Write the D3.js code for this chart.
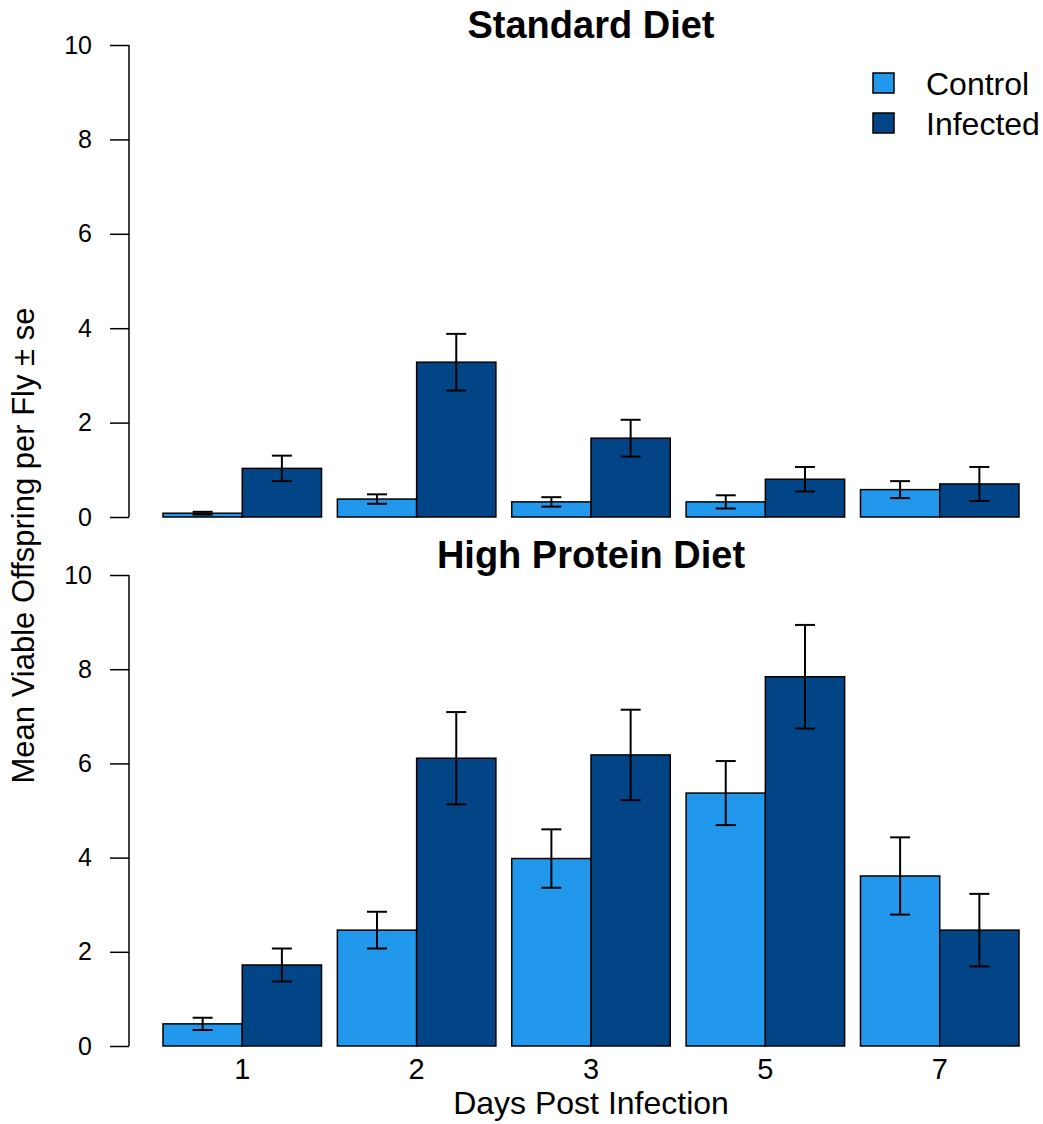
<!DOCTYPE html>
<html>
<head>
<meta charset="utf-8">
<script src="https://cdn.jsdelivr.net/npm/d3@7"></script>
<style>
  html, body { margin: 0; padding: 0; background: #fff; }
  svg { display: block; font-family: "Liberation Sans", Arial, sans-serif; }
</style>
</head>
<body>
<svg id="chart" width="1043" height="1124"></svg>
<script>
// ---- data ----
const days = ["1", "2", "3", "5", "7"];
const series = ["Control", "Infected"];
const panelTitles = ["Standard Diet", "High Protein Diet"];
const standardControl = [0.08, 0.38, 0.32, 0.32, 0.58];
const standardControlSE = [0.03, 0.10, 0.10, 0.14, 0.18];
const standardInfected = [1.03, 3.28, 1.67, 0.80, 0.70];
const standardInfectedSE = [0.27, 0.60, 0.39, 0.26, 0.36];
const proteinControl = [0.47, 2.46, 3.98, 5.37, 3.61];
const proteinControlSE = [0.13, 0.39, 0.62, 0.68, 0.82];
const proteinInfected = [1.72, 6.11, 6.18, 7.84, 2.46];
const proteinInfectedSE = [0.35, 0.98, 0.96, 1.10, 0.77];
const yTicks = [0, 2, 4, 6, 8, 10];
const yLabel = "Mean Viable Offspring per Fly \u00b1 se";
const xLabel = "Days Post Infection";

const colors = { Control: "#2298EC", Infected: "#014587" };

const panels = [
  { title: panelTitles[0], values: [standardControl, standardInfected], se: [standardControlSE, standardInfectedSE], top: 45, bottom: 517, xLabels: false },
  { title: panelTitles[1], values: [proteinControl, proteinInfected], se: [proteinControlSE, proteinInfectedSE], top: 575, bottom: 1046, xLabels: true }
];

const svg = d3.select("#chart");
const axisX = 129;
const plotRight = 1053;

const x0 = d3.scaleBand().domain(days).range([163, 1019]).paddingInner(0.2 / 2.2).paddingOuter(0);
const x1 = d3.scaleBand().domain(series).range([0, x0.bandwidth()]).padding(0);

panels.forEach(p => {
  const y = d3.scaleLinear().domain([0, 10]).range([p.bottom, p.top]);
  const g = svg.append("g");

  // title
  g.append("text")
    .attr("x", (axisX + plotRight) / 2)
    .attr("y", p.top - 7)
    .attr("text-anchor", "middle")
    .attr("font-weight", "bold")
    .attr("font-size", 38)
    .text(p.title);

  // y axis
  const yAxis = d3.axisLeft(y).tickValues(yTicks).tickSize(19).tickPadding(18).tickSizeOuter(0);
  const ag = g.append("g").attr("transform", `translate(${axisX},0)`).call(yAxis);
  ag.select(".domain").attr("stroke", "#000").attr("stroke-width", 1.5).attr("d", `M0,${p.top}V${p.bottom}`);
  ag.selectAll(".tick line").attr("stroke", "#000").attr("stroke-width", 1.5);
  ag.selectAll(".tick text").attr("font-size", 25).attr("fill", "#000")
    .attr("font-family", '"Liberation Sans", Arial, sans-serif');

  // bars
  const rows = [];
  days.forEach((d, i) => {
    series.forEach((s, j) => {
      rows.push({ day: d, s, v: p.values[j][i], e: p.se[j][i] });
    });
  });

  g.selectAll("rect.bar").data(rows).join("rect")
    .attr("class", "bar")
    .attr("x", d => x0(d.day) + x1(d.s))
    .attr("y", d => y(d.v))
    .attr("width", x1.bandwidth())
    .attr("height", d => y(0) - y(d.v))
    .attr("fill", d => colors[d.s])
    .attr("stroke", "#000")
    .attr("stroke-width", 1.5);

  // error bars
  const eg = g.selectAll("g.err").data(rows).join("g").attr("class", "err")
    .attr("transform", d => `translate(${x0(d.day) + x1(d.s) + x1.bandwidth() / 2},0)`);
  eg.append("line").attr("x1", 0).attr("x2", 0)
    .attr("y1", d => y(d.v + d.e)).attr("y2", d => y(d.v - d.e))
    .attr("stroke", "#000").attr("stroke-width", 2);
  eg.append("line").attr("x1", -10).attr("x2", 10)
    .attr("y1", d => y(d.v + d.e)).attr("y2", d => y(d.v + d.e))
    .attr("stroke", "#000").attr("stroke-width", 2);
  eg.append("line").attr("x1", -10).attr("x2", 10)
    .attr("y1", d => y(d.v - d.e)).attr("y2", d => y(d.v - d.e))
    .attr("stroke", "#000").attr("stroke-width", 2);

  if (p.xLabels) {
    g.selectAll("text.xlab").data(days).join("text")
      .attr("class", "xlab")
      .attr("x", d => x0(d) + x0.bandwidth() / 2)
      .attr("y", 1079)
      .attr("text-anchor", "middle")
      .attr("font-size", 29)
      .text(d => d);
  }
});

// x axis title
svg.append("text")
  .attr("x", (axisX + plotRight) / 2)
  .attr("y", 1114)
  .attr("text-anchor", "middle")
  .attr("font-size", 32)
  .text(xLabel);

// y axis title
svg.append("text")
  .attr("transform", `translate(34,${(45 + 1046) / 2}) rotate(-90)`)
  .attr("text-anchor", "middle")
  .attr("font-size", 31)
  .text(yLabel);

// legend
const lg = svg.append("g");
series.forEach((s, i) => {
  lg.append("rect")
    .attr("x", 873).attr("y", 73 + i * 40)
    .attr("width", 21).attr("height", 20)
    .attr("fill", colors[s]).attr("stroke", "#000").attr("stroke-width", 1.5);
  lg.append("text")
    .attr("x", 926).attr("y", 95 + i * 40)
    .attr("font-size", 32)
    .text(s);
});
</script>
</body>
</html>
